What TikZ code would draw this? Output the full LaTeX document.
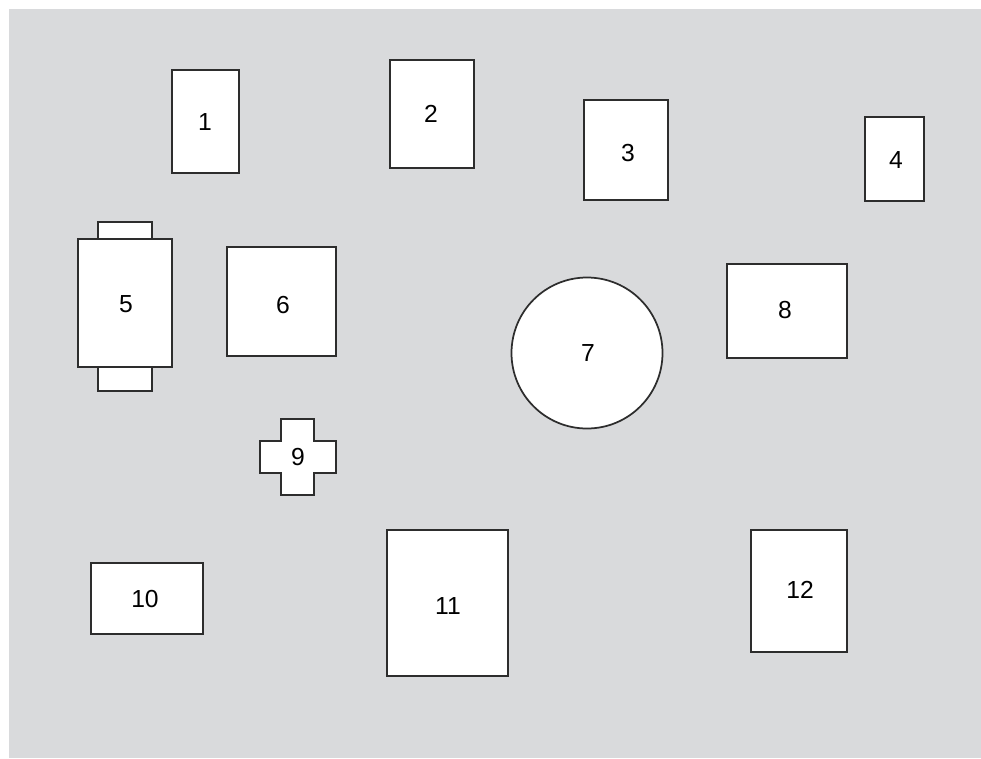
\documentclass[tikz,border=0pt]{standalone}
\usepackage{fontspec}
\setmainfont{Liberation Sans}
\definecolor{floorgray}{RGB}{217,218,220}
\definecolor{edgegray}{RGB}{45,45,45}
\tikzset{
  piece/.style={draw=edgegray, line width=1.3pt, fill=white},
  tag/.style={inner sep=0pt, font=\fontsize{18.5}{22}\selectfont}
}
\begin{document}
\begin{tikzpicture}[x=0.75pt,y=-0.75pt,line join=miter]
  \useasboundingbox (0,0) rectangle (981,758);
  \fill[floorgray] (9,9) rectangle (981,758);
  % top row
  \draw[piece] (172,70) rectangle (239,173);
  \draw[piece] (390,60) rectangle (474,168);
  \draw[piece] (584,100) rectangle (668,200);
  \draw[piece] (865,117) rectangle (924,201);
  % middle row
  \draw[piece] (98,222) rectangle (152,239);
  \draw[piece] (98,367) rectangle (152,391);
  \draw[piece] (78,239) rectangle (172,367);
  \draw[piece] (227,247) rectangle (336,356);
  \draw[piece] (587,353) circle (75.5);
  \draw[piece] (727,264) rectangle (847,358);
  \draw[piece] (281,419) -- (314,419) -- (314,441) -- (336,441) -- (336,473)
    -- (314,473) -- (314,495) -- (281,495) -- (281,473) -- (260,473)
    -- (260,441) -- (281,441) -- cycle;
  % bottom row
  \draw[piece] (91,563) rectangle (203,634);
  \draw[piece] (387,530) rectangle (508,676);
  \draw[piece] (751,530) rectangle (847,652);
  % labels
  \node[tag] (n1) at (205,122) {1};
  \node[tag] (n2) at (431,114) {2};
  \node[tag] (n3) at (628,153) {3};
  \node[tag] (n4) at (896,160) {4};
  \node[tag] (n5) at (126,304) {5};
  \node[tag] (n6) at (283,305) {6};
  \node[tag] (n7) at (588,353) {7};
  \node[tag] (n8) at (785,310) {8};
  \node[tag] (n9) at (298,457) {9};
  \node[tag] (n10) at (145,599) {10};
  \node[tag] (n11) at (448,606) {11};
  \node[tag] (n12) at (800,590) {12};
\end{tikzpicture}
\end{document}
